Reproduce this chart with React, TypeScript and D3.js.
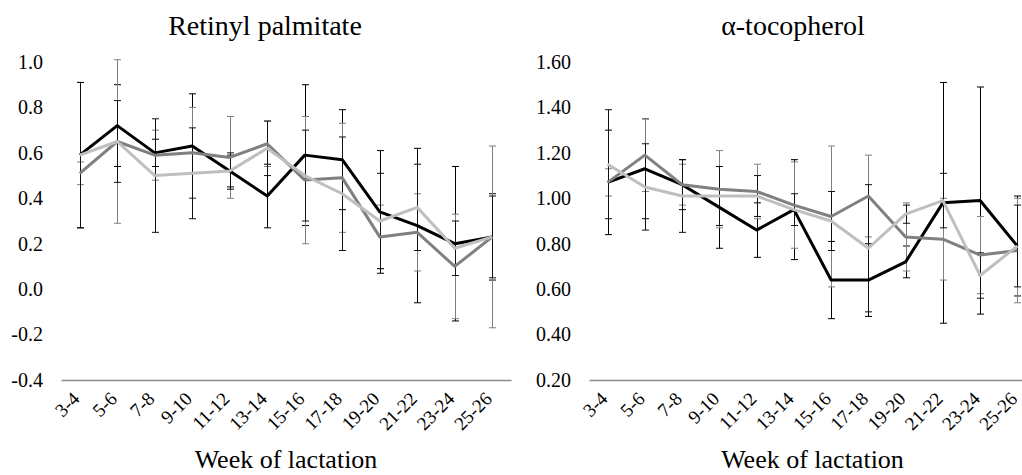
import { useRef, useEffect } from "react";
import * as d3 from "d3";

const categories = ["3-4", "5-6", "7-8", "9-10", "11-12", "13-14", "15-16", "17-18", "19-20", "21-22", "23-24", "25-26"];

// Retinyl palmitate
const retinylBlack = [0.59, 0.72, 0.6, 0.63, 0.52, 0.41, 0.59, 0.57, 0.34, 0.28, 0.2, 0.23];
const retinylDark = [0.51, 0.65, 0.59, 0.6, 0.58, 0.64, 0.48, 0.49, 0.23, 0.25, 0.1, 0.23];
const retinylLight = [0.59, 0.65, 0.5, 0.51, 0.52, 0.62, 0.5, 0.42, 0.3, 0.36, 0.18, 0.23];
const retinylBlackErr = [0.32, 0.18, 0.06, 0.23, 0.07, 0.14, 0.31, 0.22, 0.27, 0.34, 0.34, 0.19];
const retinylDarkErr = [0.05, 0.36, 0.11, 0.2, 0.18, 0.1, 0.28, 0.24, 0.14, 0.17, 0.23, 0.4];
const retinylLightErr = [0.32, 0.18, 0.25, 0.2, 0.08, 0.12, 0.2, 0.25, 0.21, 0.19, 0.12, 0.18];
const retinylTicks = [-0.4, -0.2, 0, 0.2, 0.4, 0.6, 0.8, 1.0];

// alpha-tocopherol
const tocoBlack = [1.07, 1.13, 1.06, 0.96, 0.86, 0.95, 0.64, 0.64, 0.72, 0.98, 0.99, 0.79];
const tocoDark = [1.07, 1.19, 1.06, 1.04, 1.03, 0.97, 0.92, 1.01, 0.83, 0.82, 0.75, 0.77];
const tocoLight = [1.15, 1.05, 1.01, 1.01, 1.01, 0.95, 0.9, 0.78, 0.93, 0.99, 0.66, 0.79];
const tocoBlackErr = [0.23, 0.22, 0.11, 0.18, 0.12, 0.22, 0.17, 0.16, 0.07, 0.53, 0.5, 0.22];
const tocoDarkErr = [0.06, 0.16, 0.09, 0.17, 0.12, 0.19, 0.31, 0.18, 0.15, 0.18, 0.17, 0.23];
const tocoLightErr = [0.24, 0.19, 0.16, 0.13, 0.09, 0.07, 0.13, 0.28, 0.04, 0.12, 0.1, 0.18];
const tocoTicks = [0.2, 0.4, 0.6, 0.8, 1.0, 1.2, 1.4, 1.6];

const lineColors = ["#000000", "#808080", "#bfbfbf"];
// error bars: the light series uses black whiskers in the source
const errColors = ["#000000", "#7f7f7f", "#111111"];
const font = "Liberation Serif, Times New Roman, serif";

// plain hyphen for negatives, like the source
const fmt = (digits) => (v) => v.toFixed(digits);

const drawPanel = (svg, left, plotRight, title, ticks, tickFmt, series, errors) => {
  const g = svg.append("g").attr("transform", `translate(${left},0)`);

  const x = d3.scaleBand().domain(categories).range([61, plotRight]);
  const y = d3
    .scaleLinear()
    .domain([ticks[0], ticks[ticks.length - 1]])
    .range([380, 62]);
  const cx = (c) => x(c) + x.bandwidth() / 2;

  // title
  g.append("text")
    .attr("x", 265)
    .attr("y", 35)
    .attr("text-anchor", "middle")
    .attr("font-family", font)
    .attr("font-size", 28)
    .text(title);

  // y axis, labels only
  const yAxis = g
    .append("g")
    .attr("transform", "translate(61,0)")
    .call(d3.axisLeft(y).tickValues(ticks).tickFormat(tickFmt).tickSize(0).tickPadding(18))
    .attr("font-family", font)
    .attr("font-size", 20);
  yAxis.select(".domain").remove();
  yAxis.selectAll("text").attr("fill", "#000");

  // x axis
  const xAxis = g
    .append("g")
    .attr("transform", "translate(0,380)")
    .call(d3.axisBottom(x).tickSize(0).tickSizeOuter(0))
    .attr("font-family", font)
    .attr("font-size", 19);
  xAxis.select(".domain").attr("stroke", "#8c8c8c").attr("stroke-width", 1.5);
  xAxis
    .selectAll("text")
    .attr("x", 0)
    .attr("y", 0)
    .attr("dy", 0)
    .attr("text-anchor", "end")
    .attr("transform", "translate(1,20) rotate(-45)")
    .attr("fill", "#000");

  // axis title
  g.append("text")
    .attr("x", (61 + plotRight) / 2)
    .attr("y", 468)
    .attr("text-anchor", "middle")
    .attr("font-family", font)
    .attr("font-size", 26)
    .text("Week of lactation");

  // error bars
  series.forEach((vals, i) => {
    const eg = g.append("g").attr("stroke", errColors[i]).attr("stroke-width", 1);
    vals.forEach((v, j) => {
      const px = Math.round(cx(categories[j])) + 0.5;
      const top = y(v + errors[i][j]);
      const bot = y(v - errors[i][j]);
      eg.append("line").attr("x1", px).attr("x2", px).attr("y1", top).attr("y2", bot);
      eg.append("line").attr("x1", px - 3.5).attr("x2", px + 3.5).attr("y1", top).attr("y2", top);
      eg.append("line").attr("x1", px - 3.5).attr("x2", px + 3.5).attr("y1", bot).attr("y2", bot);
    });
  });

  // lines
  const line = d3
    .line()
    .x((d, j) => cx(categories[j]))
    .y((d) => y(d));
  series.forEach((vals, i) => {
    g.append("path")
      .attr("d", line(vals))
      .attr("fill", "none")
      .attr("stroke", lineColors[i])
      .attr("stroke-width", 3)
      .attr("stroke-linejoin", "round");
  });
};

const App = () => {
  const svgRef = useRef(null);

  useEffect(() => {
    const svg = d3.select(svgRef.current);
    svg.selectAll("*").remove();

    drawPanel(
      svg,
      0,
      511,
      "Retinyl palmitate",
      retinylTicks,
      fmt(1),
      [retinylBlack, retinylDark, retinylLight],
      [retinylBlackErr, retinylDarkErr, retinylLightErr]
    );

    drawPanel(
      svg,
      528,
      508,
      "α-tocopherol",
      tocoTicks,
      fmt(2),
      [tocoBlack, tocoDark, tocoLight],
      [tocoBlackErr, tocoDarkErr, tocoLightErr]
    );
  }, []);

  return (
    <svg
      ref={svgRef}
      width={1022}
      height={475}
      style={{ position: "absolute", left: 0, top: 0, background: "white" }}
    ></svg>
  );
};

export default App;
